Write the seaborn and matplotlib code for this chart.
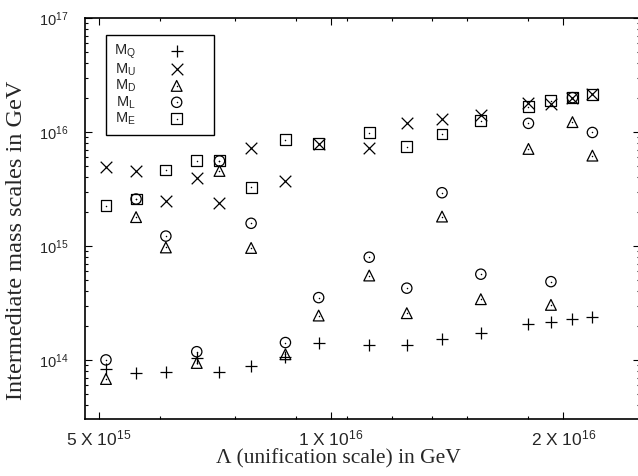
import numpy as np
import pandas as pd
import seaborn as sns
import matplotlib.pyplot as plt
from matplotlib.ticker import FixedLocator, NullFormatter, LogLocator
from matplotlib.legend_handler import HandlerTuple

# unification scale (GeV)
lam = [5.11e15, 5.59e15, 6.11e15, 6.70e15, 7.17e15, 7.88e15, 8.73e15, 9.64e15,
       1.121e16, 1.254e16, 1.393e16, 1.564e16, 1.803e16, 1.928e16, 2.056e16, 2.182e16]

m_q = [8.3e13, 7.7e13, 7.9e13, 1.03e14, 7.9e13, 8.9e13, 1.07e14, 1.40e14,
       1.35e14, 1.35e14, 1.53e14, 1.72e14, 2.06e14, 2.17e14, 2.28e14, 2.40e14]
m_u = [4.96e15, 4.55e15, 2.48e15, 3.93e15, 2.37e15, 7.19e15, 3.72e15, 7.85e15,
       7.28e15, 1.21e16, 1.30e16, 1.41e16, 1.81e16, 1.76e16, 2.0e16, 2.15e16]
m_d = [6.8e13, 1.79e15, 9.7e14, 9.4e13, 4.55e15, 9.6e14, 1.12e14, 2.45e14,
       5.5e14, 2.57e14, 1.81e15, 3.41e14, 7.1e15, 3.04e14, 1.22e16, 6.2e15]
m_l = [1.0e14, 2.58e15, 1.22e15, 1.18e14, 5.57e15, 1.58e15, 1.42e14, 3.52e14,
       7.96e14, 4.26e14, 2.93e15, 5.65e14, 1.19e16, 4.86e14, 2.0e16, 9.9e15]
m_e = [2.26e15, 2.58e15, 4.64e15, 5.57e15, 5.57e15, 3.27e15, 8.51e15, 7.85e15,
       9.86e15, 7.43e15, 9.6e15, 1.26e16, 1.67e16, 1.88e16, 2.0e16, 2.15e16]

labels = ['$M_Q$', '$M_U$', '$M_D$', '$M_L$', '$M_E$']
x_major = [5e15, 1e16, 2e16]
x_major_labels = ['5 X 10$^{15}$', '1 X 10$^{16}$', '2 X 10$^{16}$']
x_minor = [6e15, 7.5e15, 9e15, 1.05e16, 1.2e16, 1.35e16, 1.5e16, 1.8e16]

sns.set_style("ticks")
plt.rcParams['font.family'] = ['Liberation Sans', 'DejaVu Sans']
plt.rcParams['mathtext.fontset'] = 'custom'
plt.rcParams['mathtext.rm'] = 'Liberation Sans'
plt.rcParams['mathtext.it'] = 'Liberation Sans'
plt.rcParams['mathtext.default'] = 'regular'

fig = plt.figure(figsize=(6.38, 4.76), dpi=100)
ax = fig.add_axes([85 / 638, 57 / 476, 555 / 638, 401 / 476])

series = [m_q, m_u, m_d, m_l, m_e]
markers = ['+', 'x', '^', 'o', 's']
sizes = [75, 70, 60, 55, 62]
handles = []
for vals, mk, sz in zip(series, markers, sizes):
    if mk in ['+', 'x']:
        sns.scatterplot(x=lam, y=vals, marker=mk, s=sz, color='k', linewidth=0.9, ax=ax)
        handles.append(ax.collections[-1])
    else:
        sns.scatterplot(x=lam, y=vals, marker=mk, s=sz, facecolor='none',
                        edgecolor='k', linewidth=0.9, ax=ax)
        h1 = ax.collections[-1]
        # little dot in the middle of the open markers
        sns.scatterplot(x=lam, y=vals, marker='o', s=1.2, color='k', linewidth=0, ax=ax)
        handles.append((h1, ax.collections[-1]))

ax.set_xscale('log')
ax.set_yscale('log')
ax.set_xlim(4.80e15, 2.515e16)
ax.set_ylim(3.03e13, 1e17)

ax.xaxis.set_major_locator(FixedLocator(x_major))
ax.set_xticklabels(x_major_labels)
ax.xaxis.set_minor_locator(FixedLocator(x_minor))
ax.xaxis.set_minor_formatter(NullFormatter())
ax.yaxis.set_major_locator(LogLocator(base=10, numticks=10))
ax.yaxis.set_minor_locator(LogLocator(base=10, subs=np.arange(2, 10), numticks=20))
ax.yaxis.set_minor_formatter(NullFormatter())

ax.tick_params(which='both', direction='in', top=True, right=True, width=0.8, color='k')
ax.tick_params(which='major', length=5)
ax.tick_params(axis='x', which='major', pad=7, labelsize=12.5)
ax.tick_params(axis='y', which='major', pad=12, labelsize=10.5)
ax.tick_params(which='minor', length=2.5)
for sp in ax.spines.values():
    sp.set_linewidth(1.2)
    sp.set_color('k')

ax.set_xlabel('Λ (unification scale) in GeV', family='Liberation Serif', fontsize=15.5)
ax.set_ylabel('Intermediate mass scales in GeV', family='Liberation Serif', fontsize=17.5)
ax.xaxis.set_label_coords((338 - 85) / 555, -(449 - 419) / 401)
ax.yaxis.set_label_coords(-(85 - 27) / 555, 1 - (240 - 18) / 401)

leg = ax.legend(handles, labels, handler_map={tuple: HandlerTuple(ndivide=1, pad=0)},
                loc='upper left', bbox_to_anchor=(106 / 638, 1 - 35 / 476),
                bbox_transform=fig.transFigure, borderaxespad=0, markerfirst=False,
                fontsize=10.5, labelspacing=0.0, handlelength=4.0, handletextpad=0.8,
                borderpad=0.55, fancybox=False, framealpha=1, edgecolor='k')
leg.get_frame().set_linewidth(1.0)

fig.savefig('out.png', dpi=100)
